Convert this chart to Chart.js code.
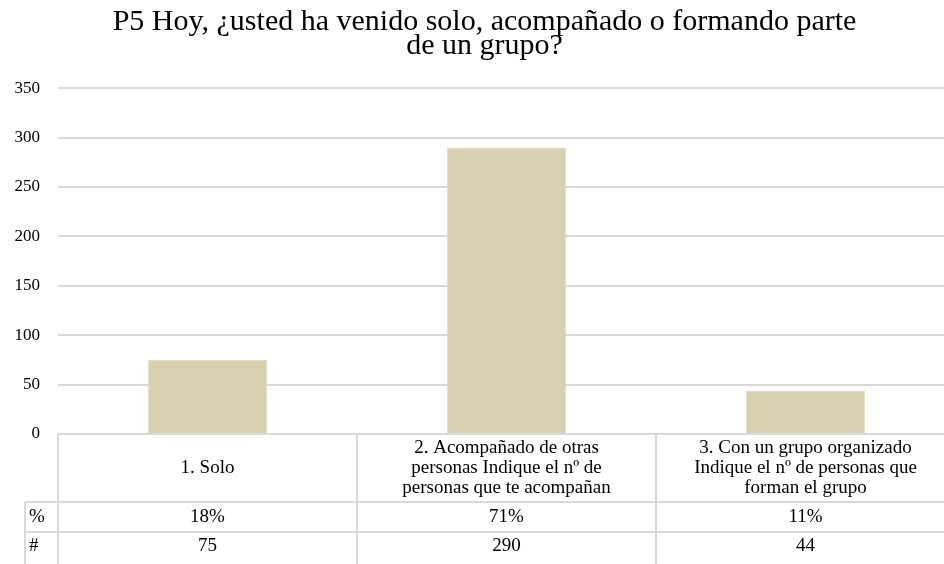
<!DOCTYPE html>
<html>
<head>
<meta charset="utf-8">
<script src="https://cdn.jsdelivr.net/npm/chart.js@4.4.1/dist/chart.umd.min.js"></script>
<style>
  html, body { margin: 0; padding: 0; background: #fff; overflow: hidden; }
  #wrap { width: 956px; height: 564px; }
</style>
</head>
<body>
<div id="wrap"><canvas id="chart" width="956" height="564"></canvas></div>
<script>
// chart data
const categories = [
    ['1. Solo'],
    ['2. Acompañado de otras', 'personas Indique el nº de', 'personas que te acompañan'],
    ['3. Con un grupo organizado', 'Indique el nº de personas que', 'forman el grupo']
];
const counts = [75, 290, 44];
const percents = [18, 71, 11];
const yTicks = [0, 50, 100, 150, 200, 250, 300, 350];

const FONT = '"Liberation Serif", "DejaVu Serif", serif';
const GRID = '#d9d9d9';

/**
 * Draws the data table under the plot (category, % and # rows)
 */
const dataTable = {
    id: 'dataTable',
    afterDraw(chart) {
        const ctx = chart.ctx;
        const area = chart.chartArea;
        const x = chart.scales.x;
        const top = area.bottom;
        const row1 = top + 68;
        const row2 = row1 + 30;
        const bottom = chart.height + 2;
        const labelLeft = area.left - 33;
        const half = (x.getPixelForValue(1) - x.getPixelForValue(0)) / 2;

        function line(x1, y1, x2, y2) {
            ctx.beginPath();
            ctx.moveTo(x1, y1);
            ctx.lineTo(x2, y2);
            ctx.stroke();
        }

        ctx.save();
        ctx.strokeStyle = GRID;
        ctx.lineWidth = 2;
        line(area.left, top, area.right, top);
        line(labelLeft, row1, area.right, row1);
        line(labelLeft, row2, area.right, row2);
        line(labelLeft, row1, labelLeft, bottom);
        for (let i = 0; i <= categories.length; i++) {
            const xb = x.getPixelForValue(i) - half;
            line(xb, top, xb, bottom);
        }

        ctx.fillStyle = '#000';
        ctx.textBaseline = 'middle';
        ctx.font = '19px ' + FONT;
        ctx.textAlign = 'left';
        ctx.fillText('%', labelLeft + 4, (row1 + row2) / 2);
        ctx.fillText('#', labelLeft + 4, (row2 + bottom) / 2 - 3);

        ctx.textAlign = 'center';
        categories.forEach(function(lines, i) {
            const cx = x.getPixelForValue(i);
            const lh = 20;
            const cy = (top + row1) / 2 - (lines.length - 1) * lh / 2;
            lines.forEach(function(t, j) {
                ctx.fillText(t, cx, cy + j * lh);
            });
            ctx.fillText(percents[i] + '%', cx, (row1 + row2) / 2);
            ctx.fillText(String(counts[i]), cx, (row2 + bottom) / 2 - 3);
        });
        ctx.restore();
    }
};

new Chart(document.getElementById('chart'), {
    type: 'bar',
    data: {
        labels: categories,
        datasets: [{
            label: '#',
            data: counts,
            backgroundColor: '#d8d0ae',
            borderColor: '#e4ddc4',
            borderWidth: 1,
            categoryPercentage: 1,
            barPercentage: 0.4
        }]
    },
    options: {
        responsive: false,
        animation: false,
        layout: {
            padding: { left: 14, right: 1, top: 0, bottom: 130 }
        },
        plugins: {
            legend: { display: false },
            tooltip: { enabled: false },
            title: {
                display: true,
                text: ['P5 Hoy, ¿usted ha venido solo, acompañado o formando parte', 'de un grupo?'],
                color: '#000',
                font: { family: FONT, size: 30, weight: 'normal', lineHeight: 0.77 },
                padding: { top: 11, bottom: 31 }
            }
        },
        scales: {
            x: {
                display: false
            },
            y: {
                min: 0,
                max: 350,
                afterBuildTicks: function(scale) {
                    scale.ticks = yTicks.map(function(v) { return { value: v }; });
                },
                afterFit: function(scale) {
                    scale.width = 44;
                },
                border: { display: false },
                grid: { color: GRID, lineWidth: 2, drawTicks: false },
                ticks: {
                    color: '#000',
                    padding: 18,
                    font: { family: FONT, size: 17 }
                }
            }
        }
    },
    plugins: [dataTable]
});
</script>
</body>
</html>
